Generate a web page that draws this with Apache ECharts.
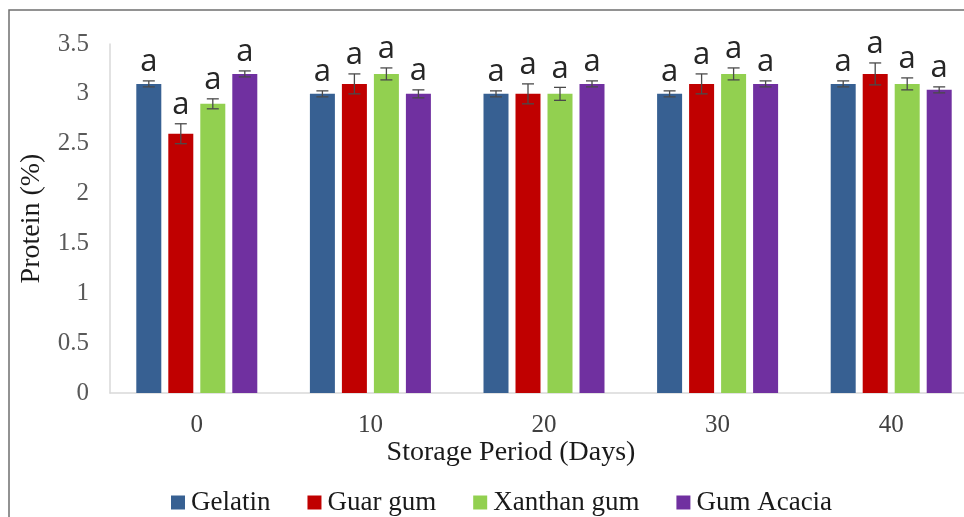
<!DOCTYPE html>
<html>
<head>
<meta charset="utf-8">
<script src="https://cdn.jsdelivr.net/npm/echarts@6/dist/echarts.min.js"></script>
<style>html,body{margin:0;padding:0;background:#fff;overflow:hidden;width:964px;height:517px;}#c{width:1000px;height:517px;}</style>
</head>
<body>
<div id="c"></div>
<script>
const categories = ['0', '10', '20', '30', '40'];
const seriesNames = ['Gelatin', 'Guar gum', 'Xanthan gum', 'Gum Acacia'];
const gelatin = [3.1, 3.0, 3.0, 3.0, 3.1];
const guarGum = [2.6, 3.1, 3.0, 3.1, 3.2];
const xanthanGum = [2.9, 3.2, 3.0, 3.2, 3.1];
const gumAcacia = [3.2, 3.0, 3.1, 3.1, 3.04];
const gelatinErr = [0.03, 0.03, 0.03, 0.03, 0.03];
const guarGumErr = [0.1, 0.1, 0.1, 0.1, 0.11];
const xanthanGumErr = [0.05, 0.06, 0.065, 0.06, 0.06];
const gumAcaciaErr = [0.03, 0.04, 0.03, 0.03, 0.03];
const letters = [['a','a','a','a','a'],['a','a','a','a','a'],['a','a','a','a','a'],['a','a','a','a','a']];
const yTicks = [0, 0.5, 1, 1.5, 2, 2.5, 3, 3.5];

const values = [gelatin, guarGum, xanthanGum, gumAcacia];
const errors = [gelatinErr, guarGumErr, xanthanGumErr, gumAcaciaErr];
const colors = ['#376092', '#c00000', '#92d050', '#7030a0'];
const BAR_W = 25, GAP = 7;

const chart = echarts.init(document.getElementById('c'), null, {renderer: 'canvas'});
const series = [];
values.forEach((vals, s) => {
  series.push({
    name: seriesNames[s], type: 'bar', data: vals, barWidth: BAR_W, barGap: (GAP / BAR_W * 100) + '%',
    itemStyle: {color: colors[s]}, silent: true
  });
});
values.forEach((vals, s) => {
  const offset = (s - 1.5) * (BAR_W + GAP);
  series.push({
    type: 'custom', silent: true, z: 5,
    data: vals.map((v, i) => [i, v, errors[s][i], letters[s][i]]),
    encode: {x: 0, y: 1},
    renderItem: function (params, api) {
      const i = api.value(0), v = api.value(1), e = api.value(2);
      const hi = api.coord([i, v + e]);
      const lo = api.coord([i, v - e]);
      const x = hi[0] + offset;
      const cap = 6;
      const st = {stroke: '#4a4a4a', lineWidth: 1.3};
      return {
        type: 'group',
        children: [
          {type: 'line', shape: {x1: x, y1: hi[1], x2: x, y2: lo[1]}, style: st},
          {type: 'line', shape: {x1: x - cap, y1: hi[1], x2: x + cap, y2: hi[1]}, style: st},
          {type: 'line', shape: {x1: x - cap, y1: lo[1], x2: x + cap, y2: lo[1]}, style: st},
          {type: 'text', style: {text: letters[s][i], x: x, y: hi[1] - 3, textAlign: 'center', textVerticalAlign: 'bottom',
            font: '31px "Open Sans"', fill: '#262626'}}
        ]
      };
    }
  });
});

chart.setOption({
  animation: false,
  graphic: [
    {type: 'rect', shape: {x: 9, y: 10, width: 1100, height: 600}, style: {fill: 'none', stroke: '#6f6f6f', lineWidth: 1.5}, z: 0},
    {type: 'text', style: {text: 'Storage Period (Days)', x: 511, y: 453, textAlign: 'center', textVerticalAlign: 'middle',
      font: '28px "Liberation Serif"', fill: '#1a1a1a'}}
  ],
  legend: {
    data: seriesNames, left: 166, top: 484, itemWidth: 14, itemHeight: 14, itemGap: 37, icon: 'rect',
    textStyle: {fontFamily: 'Liberation Serif', fontSize: 27, color: '#1a1a1a', lineHeight: 27, padding: [0, 0, 0, 1]},
    selectedMode: false
  },
  grid: {left: 110, top: 44, width: 868, height: 349, containLabel: false},
  xAxis: {
    type: 'category', data: categories,
    axisTick: {show: false},
    axisLine: {lineStyle: {color: '#d9d9d9', width: 1.5}},
    axisLabel: {fontFamily: 'Liberation Serif', fontSize: 25, color: '#404040', margin: 20}
  },
  yAxis: {
    type: 'value', min: 0, max: 3.5, interval: 0.5,
    axisLabel: {fontFamily: 'Liberation Serif', fontSize: 25, color: '#595959', margin: 21,
      formatter: v => String(yTicks.find(t => Math.abs(t - v) < 1e-9))},
    axisLine: {show: true, lineStyle: {color: '#d9d9d9', width: 1.5}},
    axisTick: {show: false},
    splitLine: {show: false},
    name: 'Protein (%)', nameLocation: 'middle', nameGap: 64,
    nameTextStyle: {fontFamily: 'Liberation Serif', fontSize: 28, color: '#1a1a1a'}
  },
  series: series
});
</script>
</body>
</html>
